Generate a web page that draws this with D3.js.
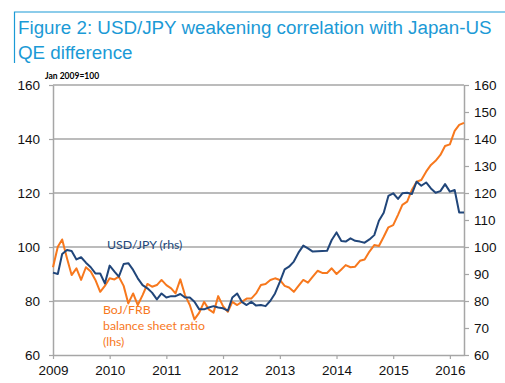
<!DOCTYPE html>
<html>
<head>
<meta charset="utf-8">
<script src="https://cdn.jsdelivr.net/npm/d3@7"></script>
<style>
  body { margin: 0; background: #fff; }
  svg { display: block; }
</style>
</head>
<body>
<div id="chart"></div>
<script>
//monthly values, Jan 2009 - Apr 2016
const usdjpy = [
  90.5, 90, 97.4, 98.9, 98.5, 95.4, 96.2, 94.2, 92.5, 90.2, 90.2, 86.5,
  93.1, 90.9, 89, 93.7, 94, 91.5, 88.4, 85.9, 84.7, 83.1, 80.6, 82.8,
  81.3, 81.8, 81.8, 82.6, 81.3, 81.3, 79.7, 76.9, 76.9, 77.6, 78.1, 77.6,
  77.3, 76.4, 81.3, 82.8, 79.7, 78.5, 79.7, 78.3, 78.5, 78.1, 80.1, 82.8,
  87.1, 91.7, 92.7, 94.6, 97.9, 100.5, 99.5, 98.3, 98.4, 98.5, 98.6, 102.6,
  105.4, 102.2, 102, 103.2, 102.3, 102, 101.6, 102.8, 104.4, 109.7, 112.7, 118.9,
  119.9, 117.8, 119.9, 120.1, 119.6, 124.2, 122.7, 123.9, 121.7, 120.1, 120.7, 123.3,
  120.5, 121.1, 112.8, 112.8
];
const bojFrb = [
  92.5, 100.1, 102.8, 95.8, 89.6, 92.1, 87.8, 92.5, 90.9, 87.8, 83.4, 85.6,
  88.4, 88, 89, 85.6, 79.1, 82.8, 78.5, 82.2, 86.3, 85.3, 85.9, 87.8,
  85.9, 84.7, 82.8, 88, 82.2, 78.5, 73.2, 75.7, 79.7, 76.9, 75.7, 81.8,
  78.1, 76, 79.7, 78.5, 79.7, 80.9, 80.9, 82.8, 85.9, 86.3, 87.8, 88.4,
  87.8, 85.6, 85, 83.4, 85.6, 87.8, 86.8, 89, 91.2, 90.4, 90.4, 92.1,
  90, 91.7, 93.3, 92.5, 92.7, 94.9, 95.4, 98.3, 100.7, 100.4, 103.8, 107.3,
  108.1, 111.9, 115.6, 116.8, 121.1, 124.2, 124.8, 127.9, 130.4, 131.9, 134.1, 137.4,
  138, 143, 145.2, 146
];
const leftTicks = [60, 80, 100, 120, 140, 160];
const rightTicks = [60, 70, 80, 90, 100, 110, 120, 130, 140, 150, 160];
const yearTicks = [2009, 2010, 2011, 2012, 2013, 2014, 2015, 2016];

const width = 505, height = 383;
const margin = {top: 85, right: 41, bottom: 28, left: 53};

const blue = "#21467a", orange = "#f7781d", titleBlue = "#1b9ad6", grid = "#a6a6a6";
const axisFont = "'Liberation Sans', Arial, sans-serif";
const noteFont = "Lato, 'Open Sans', sans-serif";

const svg = d3.select("#chart")
  .append("svg")
    .attr("width", width)
    .attr("height", height);

//title with frame
svg.append("path")
  .attr("d", `M${width},12H14.5V63`)
  .attr("fill", "none")
  .attr("stroke", titleBlue)
  .attr("stroke-width", 1.2);

svg.append("text")
  .attr("x", 18).attr("y", 34)
  .attr("fill", titleBlue)
  .style("font-family", axisFont)
  .style("font-size", "18.8px")
  .text("Figure 2: USD/JPY weakening correlation with Japan-US");

svg.append("text")
  .attr("x", 18).attr("y", 59)
  .attr("fill", titleBlue)
  .style("font-family", axisFont)
  .style("font-size", "18.8px")
  .text("QE difference");

//scales
const months = d3.timeMonth.range(new Date(2009, 0, 1), new Date(2009, usdjpy.length, 1));

const x = d3.scaleTime()
  .domain([new Date(2009, 0, 1), new Date(2016, 3, 1)])
  .range([margin.left, width - margin.right]);

const yLeft = d3.scaleLinear()
  .domain([60, 160])
  .range([height - margin.bottom, margin.top]);

const yRight = d3.scaleLinear()
  .domain([60, 160])
  .range([height - margin.bottom, margin.top]);

//gridlines
svg.append("g")
  .selectAll("line")
  .data(leftTicks.slice(1))
  .join("line")
    .attr("x1", margin.left)
    .attr("x2", width - margin.right)
    .attr("y1", d => yLeft(d))
    .attr("y2", d => yLeft(d))
    .attr("stroke", grid)
    .attr("stroke-width", 1.5);

//axes
const styleAxis = g => {
  g.select(".domain").attr("stroke", grid).attr("stroke-width", 1.5);
  g.selectAll(".tick line").attr("stroke", grid).attr("stroke-width", 1.2);
  g.selectAll(".tick text")
    .attr("fill", "#111")
    .style("font-family", axisFont)
    .style("font-size", "13.5px");
};

svg.append("g")
  .attr("transform", `translate(${margin.left},0)`)
  .call(d3.axisLeft(yLeft).tickValues(leftTicks).tickSize(4).tickSizeOuter(0).tickPadding(9))
  .call(styleAxis);

svg.append("g")
  .attr("transform", `translate(${width - margin.right},0)`)
  .call(d3.axisRight(yRight).tickValues(rightTicks).tickSize(5).tickSizeOuter(0).tickPadding(5))
  .call(styleAxis);

svg.append("g")
  .attr("transform", `translate(0,${height - margin.bottom})`)
  .call(d3.axisBottom(x)
    .tickValues(yearTicks.map(y => new Date(y, 0, 1)))
    .tickFormat(d3.timeFormat("%Y"))
    .tickSize(4).tickSizeOuter(0).tickPadding(6))
  .call(styleAxis);

//lines
const lineLeft = d3.line()
  .x((d, i) => x(months[i]))
  .y(d => yLeft(d));

const lineRight = d3.line()
  .x((d, i) => x(months[i]))
  .y(d => yRight(d));

svg.append("path")
  .datum(bojFrb)
  .attr("fill", "none")
  .attr("stroke", orange)
  .attr("stroke-width", 2)
  .attr("stroke-linejoin", "round")
  .attr("d", lineLeft);

svg.append("path")
  .datum(usdjpy)
  .attr("fill", "none")
  .attr("stroke", blue)
  .attr("stroke-width", 2)
  .attr("stroke-linejoin", "round")
  .attr("d", lineRight);

//annotations
svg.append("text")
  .attr("x", 45).attr("y", 79)
  .attr("fill", "#000")
  .style("font-family", noteFont)
  .style("font-size", "8.5px")
  .style("font-weight", "bold")
  .text("Jan 2009=100");

svg.append("text")
  .attr("x", 107).attr("y", 249)
  .attr("fill", blue)
  .style("font-family", noteFont)
  .style("font-size", "12.3px")
  .text("USD/JPY (rhs)");

svg.append("g")
  .selectAll("text")
  .data(["BoJ/FRB", "balance sheet ratio", "(lhs)"])
  .join("text")
    .attr("x", 103)
    .attr("y", (d, i) => 314 + i * 16)
    .attr("fill", orange)
    .style("font-family", noteFont)
    .style("font-size", "12.3px")
    .text(d => d);
</script>
</body>
</html>
